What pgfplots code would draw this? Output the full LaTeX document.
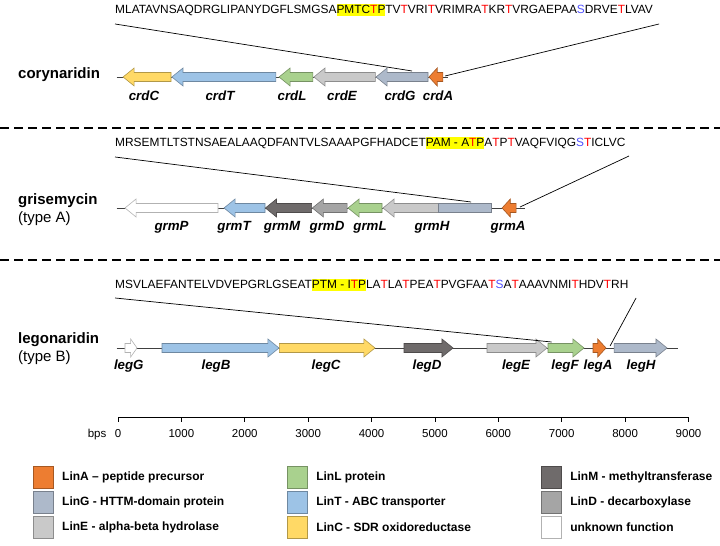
\documentclass[border=0pt]{standalone}
\usepackage{fontspec}
\setmainfont{Liberation Sans}
\usepackage{pgfplots}
\pgfplotsset{compat=1.18}
\definecolor{cA}{HTML}{ED7D31}
\definecolor{cG}{HTML}{ADB9CA}
\definecolor{cE}{HTML}{C9C9C9}
\definecolor{cL}{HTML}{A9D18E}
\definecolor{cT}{HTML}{9DC3E6}
\definecolor{cC}{HTML}{FFD966}
\definecolor{cM}{HTML}{6F6B6B}
\definecolor{cD}{HTML}{A5A5A5}
\definecolor{cU}{HTML}{FFFFFF}
\definecolor{seqred}{HTML}{FF0000}
\definecolor{seqblue}{HTML}{5050FF}
\definecolor{hly}{HTML}{FFFF00}
\newcommand\R[1]{\textcolor{seqred}{#1}}
\newcommand\B[1]{\textcolor{seqblue}{#1}}
\newcommand\hl[1]{{\fboxsep=0pt\colorbox{hly}{\rule[-0.2em]{0pt}{0.98em}#1}}}
\tikzset{gene/.style={fill=#1, draw=#1!70!black, line width=0.6bp},
  seq/.style={anchor=west, inner sep=0pt, font=\fontsize{11.9bp}{14bp}\selectfont},
  glab/.style={inner sep=0pt, font=\fontsize{13.3bp}{15bp}\selectfont\bfseries\itshape},
  rlab/.style={anchor=west, inner sep=0pt, font=\fontsize{15bp}{17bp}\selectfont\bfseries},
  rsub/.style={anchor=west, inner sep=0pt, font=\fontsize{15bp}{17bp}\selectfont},
  leg/.style={anchor=west, inner sep=0pt, font=\fontsize{12bp}{14bp}\selectfont\bfseries}}
\begin{document}
\begin{tikzpicture}[x=1bp,y=1bp]
\useasboundingbox (0,0) rectangle (720,546);
\begin{axis}[at={(0,0)}, anchor=south west, scale only axis, width=720bp, height=546bp,
  xmin=-1861.5, xmax=9496.3, ymin=0, ymax=546, y dir=reverse, hide axis, clip=false,
  every axis plot/.append style={mark=none}]
% separators
\addplot[black, line width=2.5bp, dash pattern=on 9bp off 5bp] coordinates {(-1861.5,128) (9496.3,128)};
\addplot[black, line width=2.5bp, dash pattern=on 9bp off 5bp] coordinates {(-1861.5,260) (9496.3,260)};
% backbones
\addplot[black!75, line width=0.8bp] coordinates {(-20,77) (5200,77)};
\addplot[black!75, line width=0.8bp] coordinates {(-20,208) (6420,208)};
\addplot[black!75, line width=0.8bp] coordinates {(-20,348) (8834,348)};
% row 1 corynaridin (leftward)
\addplot[gene=cC] coordinates {(836,72.5) (255,72.5) (255,68) (80,77) (255,86) (255,81.5) (836,81.5)} --cycle;
\addplot[gene=cT] coordinates {(2490,72.5) (1025,72.5) (1025,68) (850,77) (1025,86) (1025,81.5) (2490,81.5)} --cycle;
\addplot[gene=cL] coordinates {(3075,72.5) (2715,72.5) (2715,68) (2540,77) (2715,86) (2715,81.5) (3075,81.5)} --cycle;
\addplot[gene=cE] coordinates {(4060,72.5) (3265,72.5) (3265,68) (3090,77) (3265,86) (3265,81.5) (4060,81.5)} --cycle;
\addplot[gene=cG] coordinates {(4890,72.5) (4245,72.5) (4245,68) (4070,77) (4245,86) (4245,81.5) (4890,81.5)} --cycle;
\addplot[gene=cA] coordinates {(5125,72.5) (5035,72.5) (5035,68) (4905,77) (5035,86) (5035,81.5) (5125,81.5)} --cycle;
% row 2 grisemycin (leftward)
\addplot[gene=cU] coordinates {(1578,203.5) (285,203.5) (285,199) (110,208) (285,217) (285,212.5) (1578,212.5)} --cycle;
\addplot[gene=cT] coordinates {(2319,203.5) (1847,203.5) (1847,199) (1672,208) (1847,217) (1847,212.5) (2319,212.5)} --cycle;
\addplot[gene=cM] coordinates {(3055,203.5) (2500,203.5) (2500,199) (2325,208) (2500,217) (2500,212.5) (3055,212.5)} --cycle;
\addplot[gene=cD] coordinates {(3613,203.5) (3240,203.5) (3240,199) (3065,208) (3240,217) (3240,212.5) (3613,212.5)} --cycle;
\addplot[gene=cL] coordinates {(4165,203.5) (3803,203.5) (3803,199) (3628,208) (3803,217) (3803,212.5) (4165,212.5)} --cycle;
\addplot[gene=cE] coordinates {(5884,203.5) (4355,203.5) (4355,199) (4180,208) (4355,217) (4355,212.5) (5884,212.5)} --cycle;
\addplot[gene=cG] coordinates {(5048,203.5) (5884,203.5) (5884,212.5) (5048,212.5)} --cycle;
\addplot[gene=cA] coordinates {(6279,203.5) (6188,203.5) (6188,199) (6058,208) (6188,217) (6188,212.5) (6279,212.5)} --cycle;
% row 3 legonaridin (rightward)
\addplot[gene=cU] coordinates {(110,343.5) (200,343.5) (200,339) (300,348) (200,357) (200,352.5) (110,352.5)} --cycle;
\addplot[gene=cT] coordinates {(694,343.5) (2365,343.5) (2365,339) (2540,348) (2365,357) (2365,352.5) (694,352.5)} --cycle;
\addplot[gene=cC] coordinates {(2545,343.5) (3879,343.5) (3879,339) (4054,348) (3879,357) (3879,352.5) (2545,352.5)} --cycle;
\addplot[gene=cM] coordinates {(4512,343.5) (5110,343.5) (5110,339) (5285,348) (5110,357) (5110,352.5) (4512,352.5)} --cycle;
\addplot[gene=cE] coordinates {(5821,343.5) (6593,343.5) (6593,339) (6768,348) (6593,357) (6593,352.5) (5821,352.5)} --cycle;
\addplot[gene=cL] coordinates {(6783,343.5) (7176,343.5) (7176,339) (7351,348) (7176,357) (7176,352.5) (6783,352.5)} --cycle;
\addplot[gene=cA] coordinates {(7493,343.5) (7568,343.5) (7568,339) (7698,348) (7568,357) (7568,352.5) (7493,352.5)} --cycle;
\addplot[gene=cG] coordinates {(7825,343.5) (8486,343.5) (8486,339) (8661,348) (8486,357) (8486,352.5) (7825,352.5)} --cycle;
% connector lines
\addplot[black, line width=0.7bp] coordinates {(-47,24) (4638,71)};
\addplot[black, line width=0.7bp] coordinates {(8535,24) (5159,76)};
\addplot[black, line width=0.7bp] coordinates {(-47,157) (5569,202)};
\addplot[black, line width=0.7bp] coordinates {(8061,156) (6342,207)};
\addplot[black, line width=0.7bp] coordinates {(-47,298) (6840,342)};
\addplot[black, line width=0.7bp] coordinates {(8172,298) (7762,346)};
% legend boxes
\addplot[gene=cA] coordinates {(-1341,466) (-1025,466) (-1025,488) (-1341,488)} --cycle;
\addplot[gene=cG] coordinates {(-1341,491) (-1025,491) (-1025,513) (-1341,513)} --cycle;
\addplot[gene=cE] coordinates {(-1341,516) (-1025,516) (-1025,538) (-1341,538)} --cycle;
\addplot[gene=cL] coordinates {(2666,466) (2982,466) (2982,488) (2666,488)} --cycle;
\addplot[gene=cT] coordinates {(2666,491) (2982,491) (2982,513) (2666,513)} --cycle;
\addplot[gene=cC] coordinates {(2666,516) (2982,516) (2982,538) (2666,538)} --cycle;
\addplot[gene=cM] coordinates {(6673,466) (6989,466) (6989,488) (6673,488)} --cycle;
\addplot[gene=cD] coordinates {(6673,491) (6989,491) (6989,513) (6673,513)} --cycle;
\addplot[gene=cU] coordinates {(6673,516) (6989,516) (6989,538) (6673,538)} --cycle;
% texts
\node[seq] at (axis cs:-47,10) {MLATAVNSAQDRGLIPANYDGFLSMGSA\hl{PMTC\R{T}P}TV\R{T}VRI\R{T}VRIMRA\R{T}KR\R{T}VRGAEPAA\B{S}DRVE\R{T}LVAV};
\node[seq] at (axis cs:-47,143) {MRSEMTLTSTNSAEALAAQDFANTVLSAAAPGFHADCET\hl{PAM - A\R{T}P}A\R{T}P\R{T}VAQFVIQG\B{S}\R{T}ICLVC};
\node[seq] at (axis cs:-47,285) {MSVLAEFANTELVDVEPGRLGSEAT\hl{PTM - I\R{T}P}LA\R{T}LA\R{T}PEA\R{T}PVGFAA\R{T}\B{S}A\R{T}AAAVNMI\R{T}HDV\R{T}RH};
\node[rlab] at (axis cs:-1577,75) {corynaridin};
\node[rlab] at (axis cs:-1577,201) {grisemycin};
\node[rsub] at (axis cs:-1577,219) {(type A)};
\node[rlab] at (axis cs:-1577,340) {legonaridin};
\node[rsub] at (axis cs:-1577,358) {(type B)};
% gene labels
\node[glab] at (axis cs:410,96) {crdC};
\node[glab] at (axis cs:1609,96) {crdT};
\node[glab] at (axis cs:2745,96) {crdL};
\node[glab] at (axis cs:3533,96) {crdE};
\node[glab] at (axis cs:4449,96) {crdG};
\node[glab] at (axis cs:5048,96) {crdA};
\node[glab] at (axis cs:844,227) {grmP};
\node[glab] at (axis cs:1830,227) {grmT};
\node[glab] at (axis cs:2587,227) {grmM};
\node[glab] at (axis cs:3297,227) {grmD};
\node[glab] at (axis cs:3975,227) {grmL};
\node[glab] at (axis cs:4953,227) {grmH};
\node[glab] at (axis cs:6153,227) {grmA};
\node[glab] at (axis cs:170,366) {legG};
\node[glab] at (axis cs:1546,366) {legB};
\node[glab] at (axis cs:3282,366) {legC};
\node[glab] at (axis cs:4875,366) {legD};
\node[glab] at (axis cs:6279,366) {legE};
\node[glab] at (axis cs:7052,366) {legF};
\node[glab] at (axis cs:7572,366) {legA};
\node[glab] at (axis cs:8251,366) {legH};
% legend texts
\node[leg] at (axis cs:-883,477) {LinA – peptide precursor};
\node[leg] at (axis cs:-883,502) {LinG - HTTM-domain protein};
\node[leg] at (axis cs:-883,527) {LinE - alpha-beta hydrolase};
\node[leg] at (axis cs:3124,477) {LinL protein};
\node[leg] at (axis cs:3124,502) {LinT - ABC transporter};
\node[leg] at (axis cs:3124,527) {LinC - SDR oxidoreductase};
\node[leg] at (axis cs:7131,477) {LinM - methyltransferase};
\node[leg] at (axis cs:7131,502) {LinD - decarboxylase};
\node[leg] at (axis cs:7131,527) {unknown function};
\node[inner sep=0pt, font=\fontsize{11.5bp}{13bp}\selectfont] at (axis cs:-331,435) {bps};
\end{axis}
\begin{axis}[at={(118bp,129bp)}, anchor=south west, scale only axis, width=570.5bp, height=5bp,
  xmin=0, xmax=9000, ymin=0, ymax=1, axis x line=bottom, axis y line=none,
  axis line style={-, line width=0.9bp, black}, xtick={0,1000,...,9000}, ytick=\empty,
  tick align=outside, major tick length=5bp, xtick style={line width=0.9bp, black},
  /pgf/number format/assume math mode=true,
  x tick label style={font=\fontsize{11.5bp}{13bp}\selectfont, yshift=-4bp, /pgf/number format/1000 sep={}}]
\addplot[draw=none] coordinates {(0,0) (9000,0)};
\end{axis}
\end{tikzpicture}
\end{document}
